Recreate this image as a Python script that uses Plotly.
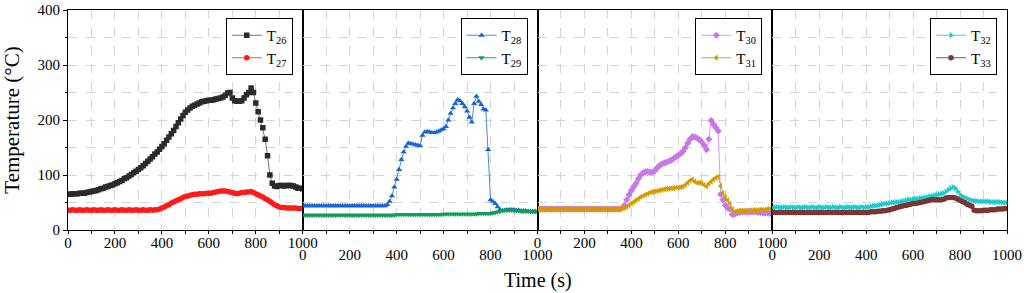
import plotly.graph_objects as go
from plotly.subplots import make_subplots

time_s = list(range(0, 1001, 10))

T26 = [65, 65, 66, 66, 66, 67, 67, 67, 68, 69,
       70, 71, 72, 73, 75, 76, 78, 79, 81, 82,
       84, 86, 88, 90, 93, 95, 98, 101, 104, 107,
       110, 113, 117, 121, 125, 129, 133, 138, 142, 147,
       152, 157, 163, 169, 175, 181, 188, 195, 202, 208,
       214, 218, 222, 225, 227, 229, 231, 233, 234, 235,
       236, 236, 237, 238, 239, 240, 242, 245, 249, 250,
       240, 235, 234, 234, 235, 240, 246, 250, 258, 250,
       231, 215, 200, 186, 165, 135, 100, 85, 80, 79,
       81, 81, 80, 81, 81, 81, 80, 78, 76, 76,
       75]
T27 = [36, 36, 37, 36, 36, 37, 36, 36, 37, 36,
       36, 37, 36, 36, 37, 36, 36, 37, 36, 36,
       37, 36, 36, 37, 36, 36, 37, 36, 36, 37,
       36, 36, 37, 36, 36, 37, 36, 37, 37, 38,
       40, 42, 44, 46, 49, 51, 53, 55, 57, 59,
       61, 62, 63, 64, 65, 65, 66, 66, 66, 67,
       67, 67, 68, 69, 70, 71, 71, 71, 70, 69,
       68, 67, 66, 67, 68, 68, 69, 69, 70, 68,
       66, 64, 62, 60, 57, 55, 52, 49, 46, 44,
       42, 41, 41, 40, 40, 40, 40, 40, 39, 39,
       39]
T28 = [44, 44, 44, 44, 44, 44, 44, 44, 44, 44,
       44, 44, 44, 44, 44, 44, 44, 44, 44, 44,
       44, 44, 44, 44, 44, 44, 44, 44, 44, 44,
       44, 44, 44, 44, 44, 44, 46, 52, 62, 78,
       92, 110, 128, 142, 152, 158, 157, 156, 155, 154,
       153, 172, 178, 179, 178, 177, 177, 178, 180, 182,
       184, 188, 200, 212, 222, 230, 237, 235, 230, 224,
       216, 205, 196, 230, 243, 234, 228, 220, 218, 146,
       55, 52, 48, 42, 37, 35, 36, 37, 37, 37,
       37, 36, 36, 35, 35, 35, 34, 34, 34, 34,
       33]
T29 = [27, 27, 27, 27, 27, 27, 27, 27, 27, 27,
       27, 27, 27, 27, 27, 27, 27, 27, 27, 27,
       27, 27, 27, 27, 27, 27, 27, 27, 27, 27,
       27, 27, 27, 27, 27, 27, 27, 27, 27, 27,
       28, 28, 28, 28, 28, 28, 28, 28, 28, 28,
       28, 28, 28, 28, 28, 28, 28, 28, 28, 28,
       29, 29, 29, 29, 29, 29, 29, 29, 29, 29,
       29, 29, 29, 29, 29, 30, 30, 30, 30, 30,
       30, 31, 32, 33, 34, 35, 36, 36, 36, 36,
       35, 35, 35, 34, 34, 34, 34, 33, 33, 33,
       33]
T30 = [38, 38, 38, 38, 38, 38, 38, 38, 38, 38,
       38, 38, 38, 38, 38, 38, 38, 38, 38, 38,
       38, 38, 38, 38, 38, 38, 38, 38, 38, 38,
       38, 38, 38, 38, 38, 38, 40, 45, 55, 64,
       72, 79, 85, 93, 100, 104, 106, 106, 105, 105,
       108, 113, 117, 120, 122, 123, 125, 127, 130, 133,
       136, 139, 143, 150, 158, 165, 170, 169, 167, 164,
       160, 154, 146, 165, 199, 192, 186, 180, 65, 55,
       45, 40, 38, 28, 29, 31, 32, 33, 33, 33,
       33, 33, 33, 33, 32, 32, 31, 31, 31, 30,
       30]
T31 = [38, 38, 38, 38, 38, 38, 38, 38, 38, 38,
       38, 38, 38, 38, 38, 38, 38, 38, 38, 38,
       38, 38, 38, 38, 38, 38, 38, 38, 38, 38,
       38, 38, 38, 38, 38, 38, 39, 40, 42, 45,
       48, 51, 54, 57, 60, 62, 64, 66, 68, 69,
       70, 71, 72, 73, 74, 75, 75, 76, 76, 77,
       77, 78, 79, 82, 86, 90, 92, 88, 86, 86,
       85, 82, 79, 84, 88, 92, 95, 97, 80, 67,
       60, 54, 48, 38, 33, 34, 35, 35, 35, 35,
       35, 36, 36, 36, 36, 37, 37, 37, 38, 38,
       38]
T32 = [41, 41, 42, 41, 41, 42, 41, 41, 42, 41,
       41, 42, 41, 41, 42, 41, 41, 42, 41, 41,
       42, 41, 41, 42, 41, 41, 42, 41, 41, 42,
       41, 41, 42, 41, 41, 42, 41, 41, 42, 41,
       42, 42, 43, 44, 44, 45, 46, 47, 48, 48,
       49, 50, 50, 51, 51, 52, 53, 54, 55, 55,
       56, 57, 57, 58, 58, 59, 60, 61, 62, 63,
       64, 65, 66, 67, 70, 73, 76, 78, 76, 70,
       64, 61, 59, 57, 55, 54, 53, 53, 52, 52,
       52, 52, 52, 51, 51, 51, 51, 51, 50, 50,
       50]
T33 = [32, 32, 32, 32, 32, 32, 32, 32, 32, 32,
       32, 32, 32, 32, 32, 32, 32, 32, 32, 32,
       32, 32, 32, 32, 32, 32, 32, 32, 32, 32,
       32, 32, 32, 32, 32, 32, 32, 32, 32, 32,
       32, 32, 33, 33, 33, 34, 34, 35, 35, 36,
       37, 38, 39, 41, 42, 43, 44, 45, 46, 47,
       48, 48, 49, 50, 51, 52, 53, 54, 55, 55,
       55, 55, 55, 56, 58, 59, 59, 59, 58, 56,
       54, 52, 50, 47, 45, 43, 36, 35, 35, 35,
       36, 36, 36, 37, 37, 37, 38, 38, 38, 39,
       39]

x_ticks = [0, 200, 400, 600, 800, 1000]
y_ticks = [0, 100, 200, 300, 400]

panels = [
    [("T<sub>26</sub>", T26, "#2b2b2b", "#777777", "square"),
     ("T<sub>27</sub>", T27, "#ff1a1a", "#ff4d4d", "circle")],
    [("T<sub>28</sub>", T28, "#1565d8", "#4a8ae0", "triangle-up"),
     ("T<sub>29</sub>", T29, "#0f9d58", "#22aa66", "triangle-down")],
    [("T<sub>30</sub>", T30, "#c678e8", "#d49cf0", "diamond"),
     ("T<sub>31</sub>", T31, "#d49a00", "#c8b400", "triangle-left")],
    [("T<sub>32</sub>", T32, "#18cccc", "#40d8d8", "triangle-right"),
     ("T<sub>33</sub>", T33, "#7a3535", "#8a5050", "circle")],
]

FONT = "Liberation Serif"
PLOT_H = 220

fig = make_subplots(rows=1, cols=4, shared_yaxes=True, horizontal_spacing=0)

for i, series in enumerate(panels):
    leg = "legend" if i == 0 else f"legend{i+1}"
    for name, vals, mc, lc, sym in series:
        fig.add_trace(go.Scatter(
            x=time_s, y=vals, name=name, mode="lines+markers",
            line=dict(color=lc, width=1),
            marker=dict(color=mc, symbol=sym, size=5.5, line=dict(width=0)),
            legend=leg,
        ), row=1, col=i+1)

for i in range(4):
    standoff = -4 if i % 2 == 0 else 8
    fig.update_xaxes(
        range=[0, 1000], tickvals=x_ticks, ticks="outside", ticklen=3,
        tickcolor="black", showline=True, linecolor="black", linewidth=1,
        mirror=True, showgrid=True, gridcolor="#d4d4d4", griddash="dash",
        gridwidth=1, zeroline=False, automargin=False,
        minor=dict(dtick=100, tick0=0, ticks="outside", ticklen=3,
                   tickcolor="black", showgrid=True, gridcolor="#d4d4d4",
                   griddash="dash"),
        tickfont=dict(family=FONT, size=15, color="black"),
        ticklabelstandoff=standoff,
        row=1, col=i+1)
    fig.update_yaxes(
        range=[0, 400], tickvals=y_ticks, ticks="outside" if i == 0 else "",
        ticklen=4, tickcolor="black", showline=True, linecolor="black",
        linewidth=1, mirror=True, showgrid=True, gridcolor="#d4d4d4",
        griddash="dash", zeroline=False, automargin=False,
        minor=dict(dtick=50, tick0=0, showgrid=True, gridcolor="#d4d4d4",
                   griddash="dash", ticks="outside" if i == 0 else "",
                   ticklen=2, tickcolor="black"),
        tickfont=dict(family=FONT, size=15, color="black"),
        row=1, col=i+1)

fig.update_yaxes(title=dict(text="Temperature (°C)",
                            font=dict(family=FONT, size=21, color="black"),
                            standoff=12), row=1, col=1)

legend_style = dict(xanchor="right", yanchor="top", bgcolor="white",
                    bordercolor="black", borderwidth=1,
                    font=dict(family=FONT, size=15, color="black"),
                    tracegroupgap=0, itemwidth=30, xref="paper", yref="paper")
layout_legends = {}
for i in range(4):
    key = "legend" if i == 0 else f"legend{i+1}"
    x_right = (i + 1) * 0.25 - 10 / 939
    layout_legends[key] = dict(x=x_right, y=1 - 8 / PLOT_H, **legend_style)

fig.update_layout(
    width=1024, height=293,
    margin=dict(l=68, r=17, t=10, b=63),
    paper_bgcolor="white", plot_bgcolor="white",
    showlegend=True,
    **layout_legends,
)

fig.add_annotation(text="Time (s)", x=0.5, y=-50 / PLOT_H, xref="paper",
                   yref="paper", xanchor="center", yanchor="middle",
                   showarrow=False,
                   font=dict(family=FONT, size=20, color="black"))

fig.write_html(
    "out.html",
    config={"displayModeBar": False},
    post_script="document.body.style.margin='0';"
                "document.body.style.overflow='hidden';",
)
